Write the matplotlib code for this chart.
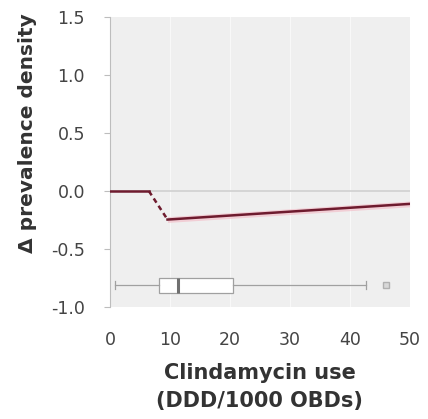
import numpy as np
import matplotlib.pyplot as plt

# piecewise effect curve
flat_x = [0, 6.5]
flat_y = [0.0, 0.0]
drop_x = [6.5, 9.6]
drop_y = [0.0, -0.245]
rise_x = [9.6, 50]
rise_y = [-0.245, -0.11]
band_halfwidth = [0.025, 0.025]

# boxplot of clindamycin use
whisker_lo = 0.9
q1 = 8.2
median = 11.3
q3 = 20.5
whisker_hi = 42.8
outliers = [46.0]

fig = plt.figure(figsize=(4.28, 4.19), dpi=100)
ax = fig.add_axes([0.257, 0.267, 0.70, 0.692])
ax.set_facecolor('#efefef')

ax.axhline(0, color='#d0d0d0', linewidth=1.2, zorder=1)
for gx in [10, 20, 30, 40]:
    ax.axvline(gx, color='#f8f8f8', linewidth=0.8, zorder=0.5)

line_col = '#6e1b2e'
band_col = '#f4b8c4'
ax.fill_between(rise_x, np.array(rise_y) - band_halfwidth, np.array(rise_y) + band_halfwidth,
                color=band_col, alpha=0.6, linewidth=0, zorder=2)
ax.plot(flat_x, flat_y, color=line_col, linewidth=1.8, zorder=3)
ax.plot(drop_x, drop_y, color=line_col, linewidth=1.8, linestyle=(0, (2, 1.5)), zorder=3)
ax.plot(rise_x, rise_y, color=line_col, linewidth=1.8, zorder=3)

stats = [{'whislo': whisker_lo, 'q1': q1, 'med': median, 'q3': q3,
          'whishi': whisker_hi, 'fliers': outliers}]
ax.bxp(stats, positions=[-0.81], vert=False, widths=0.13, patch_artist=True,
       boxprops=dict(facecolor='white', edgecolor='#a0a0a0', linewidth=0.9),
       medianprops=dict(color='#707070', linewidth=2.2),
       whiskerprops=dict(color='#a0a0a0', linewidth=0.9),
       capprops=dict(color='#a0a0a0', linewidth=0.9),
       flierprops=dict(marker='s', markersize=4, markerfacecolor='#d8d8d8',
                       markeredgecolor='#b0b0b0'),
       manage_ticks=False)

ax.set_xlim(0, 50)
ax.set_ylim(-1.0, 1.5)
ax.set_xticks([0, 10, 20, 30, 40, 50])
ax.set_yticks([-1.0, -0.5, 0.0, 0.5, 1.0, 1.5])
ax.set_yticklabels(['-1.0', '-0.5', '0.0', '0.5', '1.0', '1.5'])

for s in ['top', 'right', 'bottom']:
    ax.spines[s].set_visible(False)
ax.spines['left'].set_color('#bdbdbd')
ax.tick_params(axis='x', length=0, pad=17, labelsize=12.5, labelcolor='#444444')
ax.tick_params(axis='y', length=4, color='#bdbdbd', pad=14, labelsize=12.5, labelcolor='#444444')

ax.set_xlabel('Clindamycin use\n(DDD/1000 OBDs)', fontsize=15, fontweight='bold',
              color='#333333', labelpad=10, linespacing=1.5)
ax.set_ylabel('Δ prevalence density', fontsize=14.5, fontweight='bold',
              color='#333333')
ax.yaxis.set_label_coords(-0.245, 0.60)

fig.savefig('out.png', dpi=100)
